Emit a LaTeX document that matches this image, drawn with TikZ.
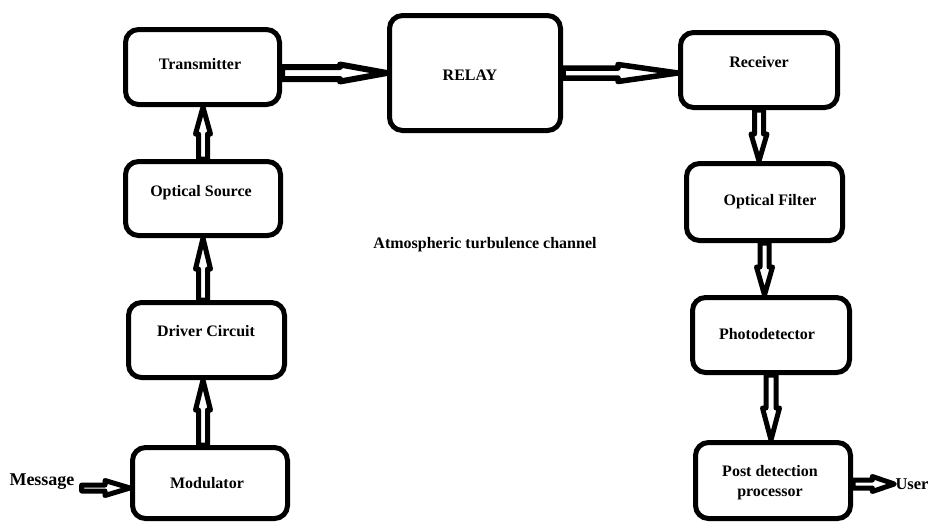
\documentclass[tikz,border=0pt]{standalone}
\usepackage{fontspec}
\setmainfont{Liberation Serif}
\usetikzlibrary{calc}
\tikzset{
  blk/.style={draw, line width=5pt, rounded corners=13pt, inner sep=0pt, fill=white},
  txt/.style={font=\bfseries\fontsize{16}{20}\selectfont, inner sep=0pt, align=center},
  harrow/.style={draw, line join=round}
}
% #1 line width, #2 from, #3 to, #4 shaft half width, #5 head half width, #6 head length
\newcommand\hollowarr[6]{%
  \path let \p1=(#2), \p2=(#3) in \pgfextra{%
    \pgfmathsetmacro\harlenL{veclen(\x2-\x1,\y2-\y1)}%
    \pgfmathsetmacro\harangL{atan2(\y2-\y1,\x2-\x1)}%
    \xdef\harlen{\harlenL}\xdef\harang{\harangL}};
  \begin{scope}[shift={(#2)}, rotate=\harang]
    \draw[harrow, line width=#1pt] (0pt,#4pt) -- ({\harlen pt-#6pt},#4pt) -- ({\harlen pt-#6pt},#5pt)
      -- ({\harlen pt},0pt) -- ({\harlen pt-#6pt},-#5pt) -- ({\harlen pt-#6pt},-#4pt) -- (0pt,-#4pt) -- cycle;
  \end{scope}}
\begin{document}
\begin{tikzpicture}[x=1pt, y=-1pt]
\useasboundingbox (0,0) rectangle (929,523);
% boxes
\node[blk, minimum width=154pt, minimum height=75pt] (tx) at (202.5,67) {};
\node[blk, minimum width=171pt, minimum height=115pt] (relay) at (475,73) {};
\node[blk, minimum width=157pt, minimum height=75pt] (rx) at (759,70) {};
\node[blk, minimum width=155pt, minimum height=74pt] (os) at (203,198.5) {};
\node[blk, minimum width=156pt, minimum height=75pt] (drv) at (206.5,340) {};
\node[blk, minimum width=155pt, minimum height=71pt] (mod) at (210,483) {};
\node[blk, minimum width=156pt, minimum height=77pt] (of) at (764.5,202) {};
\node[blk, minimum width=157pt, minimum height=75pt] (pd) at (771,335) {};
\node[blk, minimum width=155pt, minimum height=76pt] (pp) at (773,480.5) {};
% texts
\node[txt] (txl) at (200,64) {Transmitter};
\node[txt] (relayl) at (470,75) {RELAY};
\node[txt] (rxl) at (759,62) {Receiver};
\node[txt] (osl) at (201,193) {Optical Source};
\node[txt] (drvl) at (206,331) {Driver Circuit};
\node[txt] (modl) at (207,483) {Modulator};
\node[txt] (ofl) at (770,202) {Optical Filter};
\node[txt] (pdl) at (767,334) {Photodetector};
\node[txt] (ppl) at (770,483) {Post detection\\processor};
\node[txt] (chan) at (485,245) {Atmospheric turbulence channel};
\node[txt, font=\bfseries\fontsize{18}{20}\selectfont] (msg) at (42,482) {Message};
\node[txt, font=\bfseries\fontsize{16.5}{20}\selectfont, inner sep=1pt] (user) at (912,484) {User};
\coordinate (msgtail) at ($(msg.east)+(7,6)$);
% arrows
\hollowarr{6}{tx.east |- relay.west}{relay.west}{6}{8.5}{47}
\hollowarr{5.5}{relay.east}{relay.east -| rx.west}{5}{8.5}{60}
\hollowarr{5}{os.north}{os.north |- tx.south}{4.5}{7.5}{27}
\hollowarr{5}{os.south |- drv.north}{os.south}{4.5}{7.5}{31}
\hollowarr{5}{os.south |- mod.north}{os.south |- drv.south}{4.5}{7.5}{30}
\hollowarr{5}{rx.south}{rx.south |- of.north}{4.5}{8}{27}
\hollowarr{5}{of.south}{of.south |- pd.north}{4.5}{8}{28}
\hollowarr{5}{pd.south}{pd.south |- pp.north}{5}{8.5}{32}
\hollowarr{5}{msgtail}{msgtail -| mod.west}{3}{7.5}{25}
\hollowarr{5}{pp.east |- user.west}{user.west}{4}{7.5}{22}
\end{tikzpicture}
\end{document}
